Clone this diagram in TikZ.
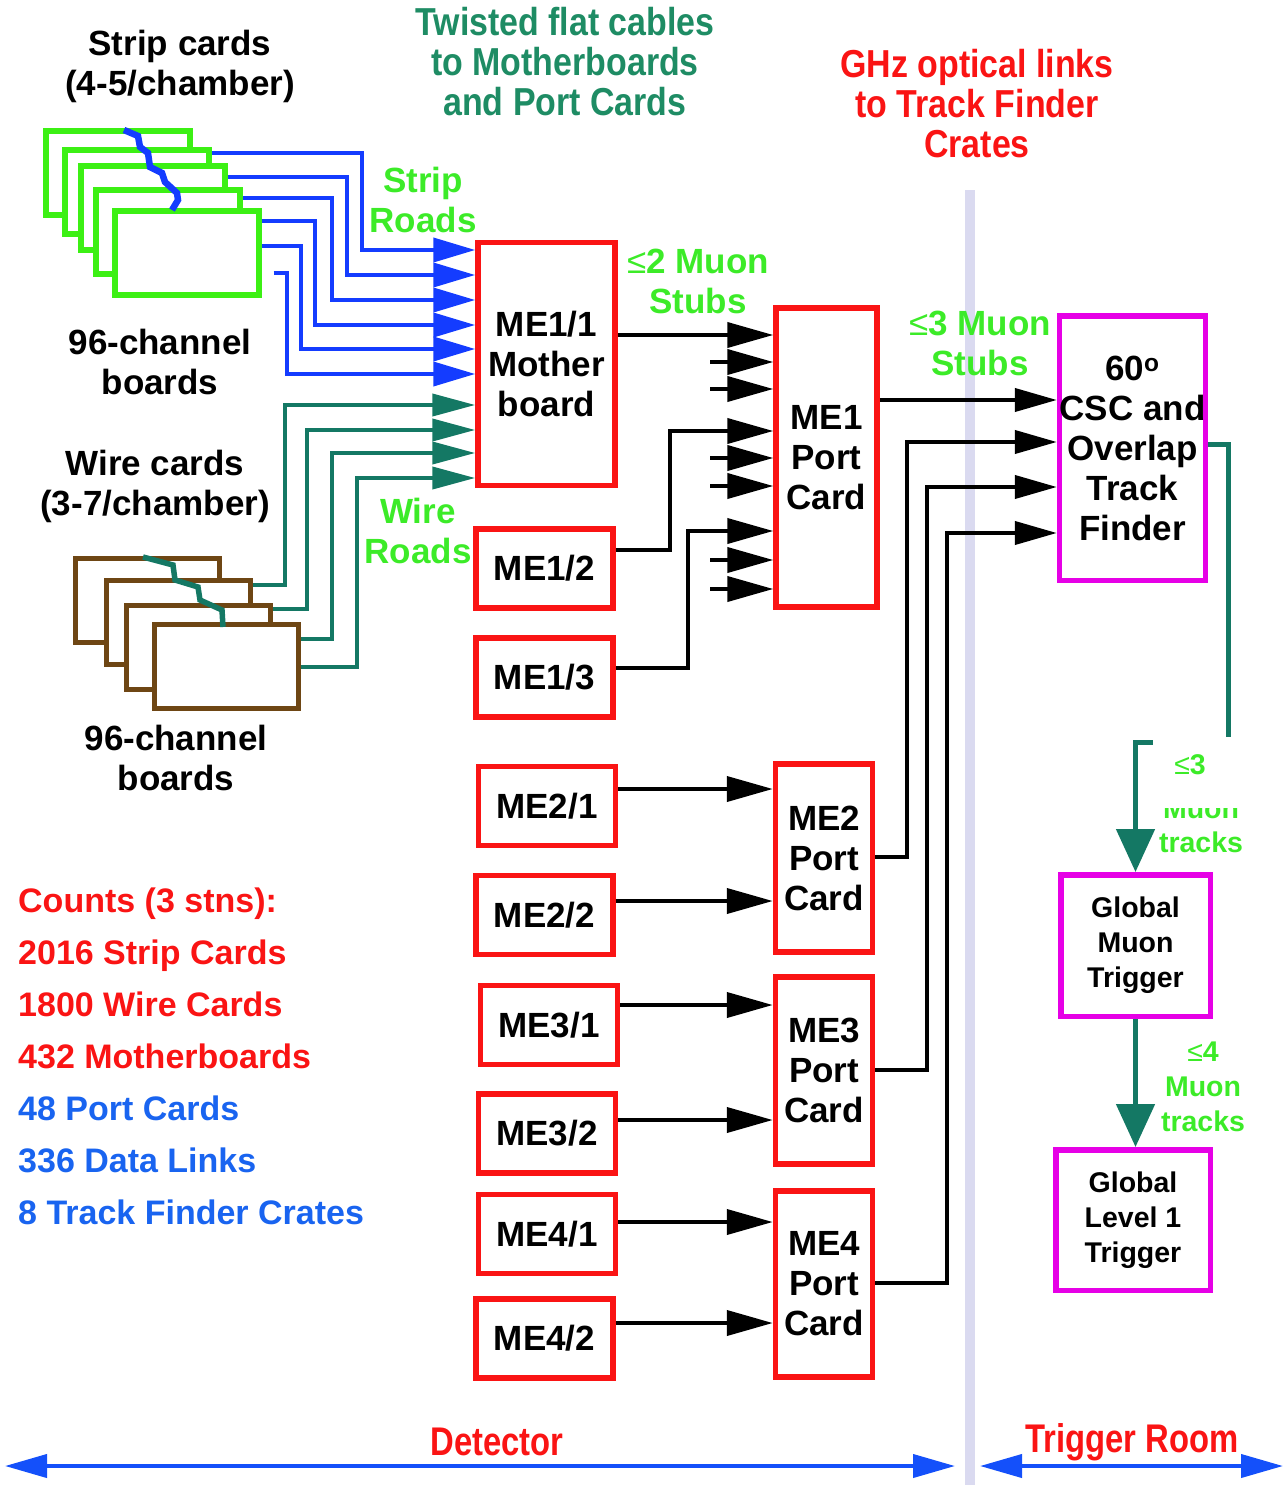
\documentclass[tikz,border=0pt]{standalone}
\usepackage{fontspec}
\setmainfont{Liberation Sans}
\newfontfamily\narrowfont[FakeStretch=0.87]{Liberation Sans}
\newfontfamily\roomnarrow[FakeStretch=0.82]{Liberation Sans}
\usepackage{tikz}
\usetikzlibrary{arrows.meta,calc}
\definecolor{mered}{RGB}{250,20,20}
\definecolor{cardgreen}{RGB}{60,240,20}
\definecolor{roadgreen}{RGB}{60,235,40}
\definecolor{stripblue}{RGB}{20,60,255}
\definecolor{wireteal}{RGB}{20,120,100}
\definecolor{cablegreen}{RGB}{30,140,100}
\definecolor{wirebrown}{RGB}{110,70,20}
\definecolor{tfmagenta}{RGB}{230,0,230}
\definecolor{countblue}{RGB}{25,100,240}
\definecolor{roomblue}{RGB}{20,80,250}
\definecolor{divider}{RGB}{218,218,240}
\newcommand{\mefont}{\fontsize{35}{40}\selectfont\bfseries}
\newcommand{\countfont}{\fontsize{34}{40}\selectfont\bfseries}
\newcommand{\gmtfont}{\fontsize{28.5}{35}\selectfont\bfseries}
\newcommand{\cablefont}{\narrowfont\fontsize{39}{40}\selectfont\bfseries}
\newcommand{\roomfont}{\roomnarrow\fontsize{40}{44}\selectfont\bfseries}

\begin{document}
\begin{tikzpicture}[x=1pt,y=-1pt,
  mebox/.style={draw=mered,line width=5.5pt,fill=white,inner sep=0pt,
    minimum width=137pt,minimum height=79pt,align=center,font=\mefont},
  portbox/.style={mebox,minimum width=97pt},
  trigbox/.style={draw=tfmagenta,line width=5.5pt,fill=white,inner sep=0pt,align=center},
  stripcard/.style={draw=cardgreen,line width=6pt,fill=white,inner sep=0pt,
    minimum width=144pt,minimum height=84pt},
  wirecard/.style={stripcard,draw=wirebrown,line width=5pt},
  cardtext/.style={align=center,font=\mefont},
  roadtext/.style={align=center,font=\mefont,text=roadgreen},
  stripline/.style={draw=stripblue,line width=4pt,-{Triangle[length=42pt,width=24pt]}},
  wireline/.style={draw=wireteal,line width=4pt,-{Triangle[length=43pt,width=22pt]}},
  stubline/.style={draw=black,line width=4pt,-{Triangle[length=46pt,width=25pt]}},
  linkline/.style={draw=black,line width=4pt,-{Triangle[length=42pt,width=23pt]}},
  trackline/.style={draw=wireteal,line width=5pt,-{Triangle[length=43pt,width=38pt]}},
  roomline/.style={draw=roomblue,line width=4pt,
    {Triangle[length=42pt,width=23pt]}-{Triangle[length=42pt,width=23pt]}},
  countline/.style={anchor=base west,inner xsep=0pt,font=\countfont}
]
  \useasboundingbox (0,0) rectangle (1286,1485);

  % divider between detector and trigger room
  \fill[divider] (965,190) rectangle (975,1485);

  % titles
  \node[cardtext] (striptitle) at (180,66) {Strip cards\\(4-5/chamber)};
  \node[align=center,font=\cablefont,text=cablegreen] (cabletitle) at (565,62)
    {Twisted flat cables\\to Motherboards\\and Port Cards};
  \node[align=center,font=\cablefont,text=mered] (linktitle) at (977,104)
    {GHz optical links\\to Track Finder\\Crates};

  % strip cards
  \node[stripcard] (sc1) at (118,173) {};
  \node[stripcard] (sc2) at (137,192) {};
  \node[stripcard] (sc3) at (153,208) {};
  \node[stripcard] (sc4) at (168,232) {};
  \node[stripcard] (sc5) at (186.5,252.5) {};
  \draw[stripblue,line width=6.5pt] (124,130) -- (138,136) -- (140,147) -- (148,153)
    -- (150,167) -- (162,173) -- (165,182) -- (177,193) -- (178,200) -- (172,210);
  \node[cardtext] (stripboards) at (160,362) {96-channel\\boards};

  % wire cards
  \node[wirecard] (wc1) at (147,600) {};
  \node[wirecard] (wc2) at (178,622.5) {};
  \node[wirecard] (wc3) at (198,647.5) {};
  \node[wirecard] (wc4) at (226,666) {};
  \draw[wireteal,line width=5.5pt] (143,557) -- (173,565) -- (175,580) -- (198,587)
    -- (200,600) -- (222,610) -- (223,627);
  \node[cardtext] (wiretitle) at (155,486) {Wire cards\\(3-7/chamber)};
  \node[cardtext] (wireboards) at (176,758) {96-channel\\boards};

  \node[roadtext] (striproads) at (423,200) {Strip\\Roads};
  \node[roadtext] (wireroads) at (418,531) {Wire\\Roads};

  % chamber boards
  \node[mebox,minimum height=243pt] (mb11) at (546.5,364) {ME1/1\\Mother\\board};
  \node[mebox] (me12) at (544.5,568.5) {ME1/2};
  \node[mebox] (me13) at (544.5,677.5) {ME1/3};
  \node[mebox] (me21) at (547,806) {ME2/1};
  \node[mebox] (me22) at (544.5,915) {ME2/2};
  \node[mebox] (me31) at (549,1025) {ME3/1};
  \node[mebox] (me32) at (547,1133.5) {ME3/2};
  \node[mebox] (me41) at (547,1234) {ME4/1};
  \node[mebox] (me42) at (544.5,1338.5) {ME4/2};

  % port cards
  \node[portbox,minimum width=101pt,minimum height=299pt] (pc1) at (826.5,457.5) {ME1\\Port\\Card};
  \node[portbox,minimum height=188pt] (pc2) at (824,858) {ME2\\Port\\Card};
  \node[portbox,minimum height=187pt] (pc3) at (824,1070.5) {ME3\\Port\\Card};
  \node[portbox,minimum height=186pt] (pc4) at (824,1284) {ME4\\Port\\Card};

  \node[roadtext] (stubs2) at (698,281) {{\mdseries ≤}2 Muon\\Stubs};
  \node[roadtext] (stubs3) at (980,343) {{\mdseries ≤}3 Muon\\Stubs};

  % trigger room
  \node[trigbox,font=\mefont,minimum width=145.5pt,minimum height=264.5pt] (tf) at (1132.5,448)
    {60\textsuperscript{o}\\CSC and\\Overlap\\Track\\Finder};
  \node[trigbox,font=\gmtfont,minimum width=149.5pt,minimum height=141.5pt] (gmt) at (1135.5,945.5)
    {Global\\Muon\\Trigger};
  \node[trigbox,font=\gmtfont,minimum width=154.5pt,minimum height=140.5pt] (gl1) at (1133,1220)
    {Global\\Level 1\\Trigger};

  % strip roads
  \coordinate (sc5out) at ($(sc5.east |- 0,273)+(12,0)$);
  \draw[stripline] (sc2.east |- 0,153) -| (362,250) -- (mb11.west |- 0,250);
  \draw[stripline] (sc3.east |- 0,177) -| (347,275) -- (mb11.west |- 0,275);
  \draw[stripline] (sc4.east |- 0,198) -| (332,300) -- (mb11.west |- 0,300);
  \draw[stripline] (sc5.east |- 0,221) -| (315,325) -- (mb11.west |- 0,325);
  \draw[stripline] (sc5.east |- 0,246) -| (301,349) -- (mb11.west |- 0,349);
  \draw[stripline] (sc5out) -| (287,374) -- (mb11.west |- 0,374);

  % wire roads
  \draw[wireline] (wc2.east |- 0,585) -| (285,405) -- (mb11.west |- 0,405);
  \draw[wireline] (wc3.east |- 0,609) -| (307,430) -- (mb11.west |- 0,430);
  \draw[wireline] (wc4.east |- 0,639) -| (332,453) -- (mb11.west |- 0,453);
  \draw[wireline] (wc4.east |- 0,667) -| (357,478) -- (mb11.west |- 0,478);

  % muon stubs into port cards
  \draw[stubline] (mb11.east |- 0,335) -- (pc1.west |- 0,335);
  \draw[stubline] (me12.east |- 0,550) -| (670,431) -- (pc1.west |- 0,431);
  \draw[stubline] (me13.east |- 0,668) -| (688,531) -- (pc1.west |- 0,531);
  \foreach \y in {362,389,458,486,560,589} {
    \coordinate (stub\y) at (710,\y);
    \draw[stubline] (stub\y) -- (pc1.west |- stub\y);
  }
  \draw[stubline] (me21.east |- 0,789) -- (pc2.west |- 0,789);
  \draw[stubline] (me22.east |- 0,901) -- (pc2.west |- 0,901);
  \draw[stubline] (me31.east |- 0,1005) -- (pc3.west |- 0,1005);
  \draw[stubline] (me32.east |- 0,1120) -- (pc3.west |- 0,1120);
  \draw[stubline] (me41.east |- 0,1222) -- (pc4.west |- 0,1222);
  \draw[stubline] (me42.east |- 0,1323) -- (pc4.west |- 0,1323);

  % optical links
  \draw[linkline] (pc1.east |- 0,400) -- (tf.west |- 0,400);
  \draw[linkline] (pc2.east |- 0,857) -| (907,442) -- (tf.west |- 0,442);
  \draw[linkline] (pc3.east |- 0,1070) -| (927,487) -- (tf.west |- 0,487);
  \draw[linkline] (pc4.east |- 0,1283) -| (947,533) -- (tf.west |- 0,533);

  % muon tracks
  \draw[trackline] (tf.east |- 0,444) -| (1228,742) -| (gmt.north);
  \node[font=\gmtfont,text=roadgreen,anchor=base] (muon3) at (1201,818) {Muon};
  \fill[white] (1153,737) rectangle (1258,808);
  \node[font=\gmtfont,text=roadgreen,anchor=base] (le3) at (1190,774) {{\mdseries ≤}3};
  \node[font=\gmtfont,text=roadgreen,anchor=base] (tracks3) at (1201,852) {tracks};
  \draw[trackline] (gmt.south) -- (gmt.south |- gl1.north);
  \node[align=center,font=\gmtfont,text=roadgreen] (tracks4) at (1203,1087)
    {{\mdseries ≤}4\\Muon\\tracks};

  % counts
  \node[countline,text=mered] (cnt1) at (18,912) {Counts (3 stns):};
  \node[countline,text=mered] (cnt2) at (18,964) {2016 Strip Cards};
  \node[countline,text=mered] (cnt3) at (18,1016) {1800 Wire Cards};
  \node[countline,text=mered] (cnt4) at (18,1068) {432 Motherboards};
  \node[countline,text=countblue] (cnt5) at (18,1120) {48 Port Cards};
  \node[countline,text=countblue] (cnt6) at (18,1172) {336 Data Links};
  \node[countline,text=countblue] (cnt7) at (18,1224) {8 Track Finder Crates};

  % detector / trigger room
  \node[font=\roomfont,text=mered] (detector) at (497,1442) {Detector};
  \node[font=\roomfont,text=mered] (trigroom) at (1132,1442) {Trigger Room};
  \coordinate (detL) at (5,1466);
  \coordinate (detR) at (955,1466);
  \coordinate (roomL) at (980,1466);
  \coordinate (roomR) at (1283,1466);
  \draw[roomline] (detL) -- (detR);
  \draw[roomline] (roomL) -- (roomR);
\end{tikzpicture}
\end{document}
